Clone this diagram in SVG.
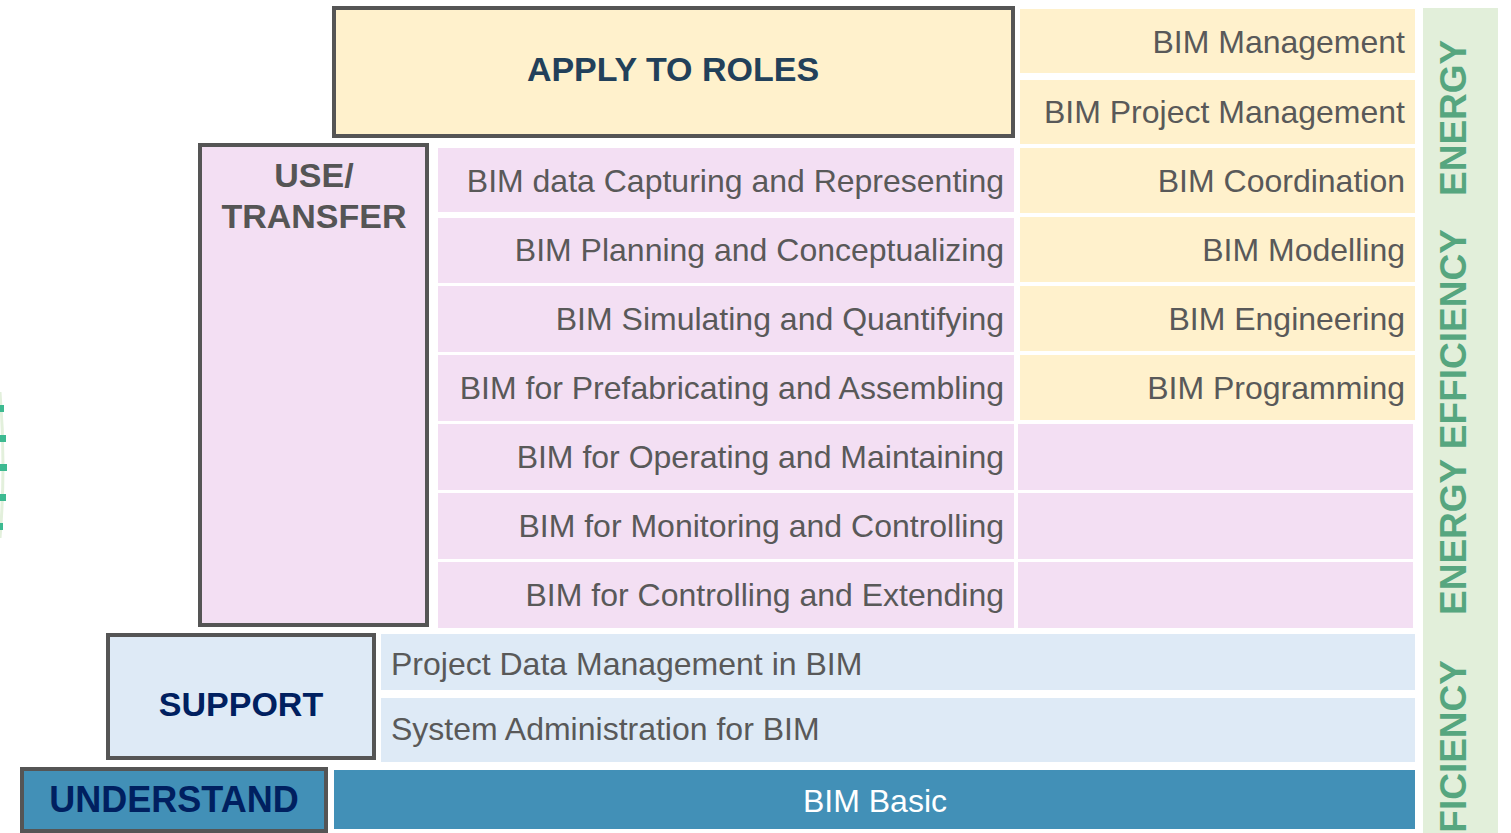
<svg xmlns="http://www.w3.org/2000/svg" width="1511" height="833" viewBox="0 0 1511 833">
<style>
.frame{stroke:#555555;stroke-width:4}
.yel{fill:#fff1cc}
.pink{fill:#f3dff3}
.lblue{fill:#deeaf6}
.blue{fill:#4290b7}
.t{font-family:"Liberation Sans",Arial,sans-serif;font-size:32px;fill:#595959}
.tr{text-anchor:end}
.w{fill:#ffffff;text-anchor:middle}
.h{font-family:"Liberation Sans",Arial,sans-serif;font-weight:bold;font-size:34px;text-anchor:middle}
.g{font-family:"Liberation Sans",Arial,sans-serif;font-weight:bold;font-size:37px;fill:#56a67f}
.tick{fill:#3dba91}
</style>
<rect width="1511" height="833" fill="#ffffff"/>

<g id="decor">
  <path d="M0,392 Q6,465 0,538" fill="none" stroke="#e3f0dc" stroke-width="3"/>
  <rect class="tick" x="0" y="405" width="4" height="7"/>
  <rect class="tick" x="0" y="435" width="6" height="7"/>
  <rect class="tick" x="0" y="464" width="7" height="7"/>
  <rect class="tick" x="0" y="494" width="6" height="7"/>
  <rect class="tick" x="0" y="523" width="3" height="7"/>
</g>

<g id="energy-strip">
  <rect x="1423" y="8" width="75" height="825" fill="#e2efda"/>
  <text class="g" transform="translate(1466,196) rotate(-90)">ENERGY</text>
  <text class="g" transform="translate(1466,615) rotate(-90)">ENERGY EFFICIENCY</text>
  <text class="g" text-anchor="end" transform="translate(1466,660) rotate(-90)">EFFICIENCY</text>
</g>

<g id="apply-to-roles">
  <rect class="frame yel" x="334" y="8" width="679" height="128"/>
  <text class="h" x="673" y="81" fill="#22405a">APPLY TO ROLES</text>
</g>

<g id="roles">
  <rect class="yel" x="1020" y="9" width="395" height="64"/>
  <text class="t tr" x="1405" y="53">BIM Management</text>
  <rect class="yel" x="1020" y="80" width="395" height="64"/>
  <text class="t tr" x="1405" y="123">BIM Project Management</text>
  <rect class="yel" x="1020" y="148" width="395" height="65"/>
  <text class="t tr" x="1405" y="192">BIM Coordination</text>
  <rect class="yel" x="1020" y="217" width="395" height="65"/>
  <text class="t tr" x="1405" y="261">BIM Modelling</text>
  <rect class="yel" x="1020" y="286" width="395" height="65"/>
  <text class="t tr" x="1405" y="330">BIM Engineering</text>
  <rect class="yel" x="1020" y="355" width="395" height="65"/>
  <text class="t tr" x="1405" y="399">BIM Programming</text>
</g>

<g id="use-transfer">
  <rect class="frame pink" x="200" y="145" width="227" height="480"/>
  <text class="h" x="314" y="187" fill="#555555">USE/</text>
  <text class="h" x="314" y="228" fill="#555555">TRANSFER</text>
</g>

<g id="use-items">
  <rect class="pink" x="438" y="148" width="576" height="64"/>
  <text class="t tr" x="1004" y="192">BIM data Capturing and Representing</text>
  <rect class="pink" x="438" y="218" width="576" height="65"/>
  <text class="t tr" x="1004" y="261">BIM Planning and Conceptualizing</text>
  <rect class="pink" x="438" y="286" width="576" height="66"/>
  <text class="t tr" x="1004" y="330">BIM Simulating and Quantifying</text>
  <rect class="pink" x="438" y="355" width="576" height="66"/>
  <text class="t tr" x="1004" y="399">BIM for Prefabricating and Assembling</text>
  <rect class="pink" x="438" y="424" width="576" height="66"/>
  <text class="t tr" x="1004" y="468">BIM for Operating and Maintaining</text>
  <rect class="pink" x="438" y="493" width="576" height="66"/>
  <text class="t tr" x="1004" y="537">BIM for Monitoring and Controlling</text>
  <rect class="pink" x="438" y="562" width="576" height="66"/>
  <text class="t tr" x="1004" y="606">BIM for Controlling and Extending</text>
  <rect class="pink" x="1018" y="424" width="395" height="66"/>
  <rect class="pink" x="1018" y="493" width="395" height="66"/>
  <rect class="pink" x="1018" y="562" width="395" height="66"/>
</g>

<g id="support">
  <rect class="frame lblue" x="108" y="635" width="266" height="123"/>
  <text class="h" x="241" y="716" fill="#002060">SUPPORT</text>
</g>

<g id="support-items">
  <rect class="lblue" x="381" y="634" width="1034" height="56"/>
  <text class="t" x="391" y="675">Project Data Management in BIM</text>
  <rect class="lblue" x="381" y="698" width="1034" height="64"/>
  <text class="t" x="391" y="740">System Administration for BIM</text>
</g>

<g id="understand">
  <rect class="frame blue" x="22" y="769" width="304" height="62"/>
  <text class="h" x="174" y="812" fill="#002060" style="font-size:36px">UNDERSTAND</text>
</g>

<g id="understand-items">
  <rect class="blue" x="334" y="770" width="1081" height="59"/>
  <text class="t w" x="875" y="812">BIM Basic</text>
</g>

<g id="connectors"></g>
</svg>
